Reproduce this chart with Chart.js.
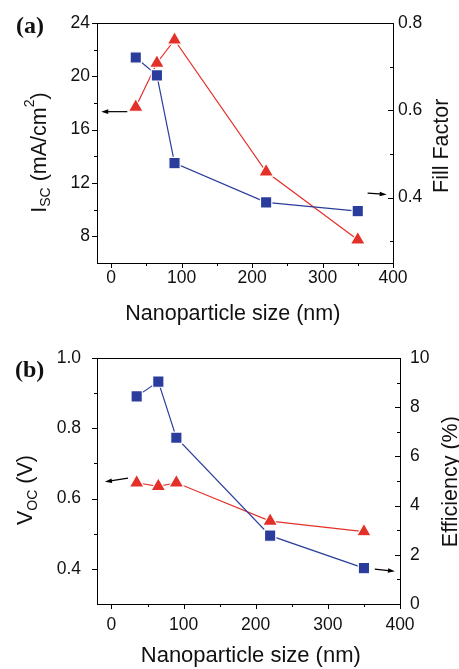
<!DOCTYPE html>
<html>
<head>
<meta charset="utf-8">
<script src="https://cdn.jsdelivr.net/npm/chart.js@4.4.1/dist/chart.umd.min.js"></script>
<style>
  html, body { margin: 0; padding: 0; background: #fff; }
  #wrap { position: relative; width: 459px; height: 669px; overflow: hidden; }
  canvas { position: absolute; left: 0; }
  #chartA { top: 0; }
  #chartB { top: 330px; }
</style>
</head>
<body>
<div id="wrap">
  <canvas id="chartA" width="459" height="330"></canvas>
  <canvas id="chartB" width="459" height="339"></canvas>
</div>
<script>
// === Data ===
const sizes = [35, 65, 90, 220, 350];

// panel (a)
const iscValues = [17.7, 21.0, 22.73, 12.84, 7.74];
const fillFactor = [0.721, 0.68, 0.479, 0.389, 0.369];

// panel (b)
const vocValues = [0.645, 0.635, 0.645, 0.536, 0.506];
const efficiency = [8.44, 9.04, 6.76, 2.78, 1.46];

// tick values
const xMajor = [0, 100, 200, 300, 400];
const xMinor = [50, 150, 250, 350];
const iscMajor = [8, 12, 16, 20, 24];
const iscMinor = [10, 14, 18, 22];
const ffMajor = [0.4, 0.6, 0.8];
const ffMinor = [0.3, 0.5, 0.7];
const vocMajor = [0.4, 0.6, 0.8, 1.0];
const vocMinor = [0.5, 0.7, 0.9];
const effMajor = [0, 2, 4, 6, 8, 10];
const effMinor = [1, 3, 5, 7, 9];

const RED = '#e3312a';
const BLUE = '#2b3d9c';
const FONT = 'Liberation Sans';

const pts = (ys) => sizes.map((x, i) => ({x, y: ys[i]}));

// === helpers ===
function drawParts(ctx, parts, x, y, rot) {
  ctx.save();
  ctx.translate(x, y);
  ctx.rotate(rot);
  ctx.fillStyle = '#111';
  ctx.textBaseline = 'alphabetic';
  ctx.textAlign = 'left';
  let total = 0;
  parts.forEach((p) => {
    ctx.font = `${p.size}px "${FONT}"`;
    p.w = ctx.measureText(p.t).width;
    total += p.w;
  });
  let cx = -total / 2;
  parts.forEach((p) => {
    ctx.font = `${p.size}px "${FONT}"`;
    ctx.fillText(p.t, cx, p.dy || 0);
    cx += p.w;
  });
  ctx.restore();
}

function drawArrow(ctx, x1, y1, x2, y2) {
  const ang = Math.atan2(y2 - y1, x2 - x1);
  ctx.save();
  ctx.strokeStyle = '#000';
  ctx.fillStyle = '#000';
  ctx.lineWidth = 1.2;
  ctx.beginPath();
  ctx.moveTo(x1, y1);
  ctx.lineTo(x2 - Math.cos(ang) * 4, y2 - Math.sin(ang) * 4);
  ctx.stroke();
  ctx.beginPath();
  ctx.moveTo(x2, y2);
  ctx.lineTo(x2 - Math.cos(ang) * 7 + Math.sin(ang) * 2.3, y2 - Math.sin(ang) * 7 - Math.cos(ang) * 2.3);
  ctx.lineTo(x2 - Math.cos(ang) * 7 - Math.sin(ang) * 2.3, y2 - Math.sin(ang) * 7 + Math.cos(ang) * 2.3);
  ctx.closePath();
  ctx.fill();
  ctx.restore();
}

// frame, tick marks, titles and arrows
function makeDecor(spec) {
  return {
    id: 'decor',
    afterDraw(chart) {
      const ctx = chart.ctx;
      const a = chart.chartArea;
      const sx = chart.scales.x, sy = chart.scales.y, sy1 = chart.scales.y1;
      ctx.save();
      ctx.strokeStyle = '#000';
      ctx.lineWidth = 1;
      ctx.strokeRect(a.left + 0.5, a.top + 0.5, a.right - a.left, a.bottom - a.top);
      ctx.beginPath();
      const tick = (vals, len, fn) => vals.forEach((v) => fn(v, len));
      const xt = (v, len) => {
        const p = Math.round(sx.getPixelForValue(v)) + 0.5;
        ctx.moveTo(p, a.bottom); ctx.lineTo(p, a.bottom + len);
      };
      const yt = (v, len) => {
        const p = Math.round(sy.getPixelForValue(v)) + 0.5;
        ctx.moveTo(a.left, p); ctx.lineTo(a.left - len, p);
      };
      const y1t = (v, len) => {
        const p = Math.round(sy1.getPixelForValue(v)) + 0.5;
        ctx.moveTo(a.right, p); ctx.lineTo(a.right - len, p);
      };
      tick(xMajor, 5, xt); tick(xMinor, 3, xt);
      tick(spec.yMajor, 5, yt); tick(spec.yMinor, 3, yt);
      tick(spec.y1Major, 5, y1t); tick(spec.y1Minor, 3, y1t);
      ctx.stroke();
      ctx.restore();

      spec.titles.forEach((t) => drawParts(ctx, t.parts, t.x, t.y, t.rot || 0));

      ctx.save();
      ctx.font = `bold 24px "Liberation Serif"`;
      ctx.fillStyle = '#111';
      ctx.fillText(spec.panel.text, spec.panel.x, spec.panel.y);
      ctx.restore();

      spec.arrows.forEach((ar) => {
        const s = chart.scales[ar.axis];
        drawArrow(ctx, sx.getPixelForValue(ar.from[0]), s.getPixelForValue(ar.from[1]),
          sx.getPixelForValue(ar.to[0]), s.getPixelForValue(ar.to[1]));
      });
    },
  };
}

function lineSet(label, data, axis, color, style, radius) {
  return {
    label, data, yAxisID: axis,
    borderColor: color, backgroundColor: color, borderWidth: 1.2,
    pointStyle: style, pointRadius: radius, pointBackgroundColor: color,
    pointBorderColor: '#fff', pointBorderWidth: 1.2, tension: 0,
  };
}

function makeChart(el, cfg) {
  const tickFont = {family: FONT, size: 17.5};
  const fixed = (vals) => (axis) => { axis.ticks = vals.map((v) => ({value: v})); };
  return new Chart(el, {
    type: 'line',
    data: {datasets: cfg.datasets},
    options: {
      responsive: false,
      animation: false,
      events: [],
      layout: {padding: {top: cfg.top, left: 0, right: 0, bottom: 0}},
      plugins: {legend: {display: false}, tooltip: {enabled: false}},
      scales: {
        x: {
          type: 'linear', min: -20, max: 400,
          grid: {display: false, drawTicks: false}, border: {display: false},
          afterBuildTicks: fixed(xMajor),
          ticks: {font: tickFont, color: '#111', padding: cfg.xPad, maxRotation: 0, autoSkip: false},
          afterFit: (s) => { s.height = cfg.xHeight; },
        },
        y: {
          type: 'linear', position: 'left', min: cfg.yRange[0], max: cfg.yRange[1],
          grid: {display: false, drawTicks: false}, border: {display: false},
          afterBuildTicks: fixed(cfg.yMajor),
          ticks: {font: tickFont, color: '#111', padding: cfg.yPad, callback: cfg.yFmt},
          afterFit: (s) => { s.width = 97; },
        },
        y1: {
          type: 'linear', position: 'right', min: cfg.y1Range[0], max: cfg.y1Range[1],
          grid: {display: false, drawTicks: false}, border: {display: false},
          afterBuildTicks: fixed(cfg.y1Major),
          ticks: {font: tickFont, color: '#111', padding: cfg.y1Pad, callback: cfg.y1Fmt},
          afterFit: (s) => { s.width = cfg.y1Width; },
        },
      },
    },
    plugins: [makeDecor(cfg)],
  });
}

// === Panel (a) ===
makeChart(document.getElementById('chartA'), {
  datasets: [
    lineSet('Fill Factor', pts(fillFactor), 'y1', BLUE, 'rect', 8),
    lineSet('Isc', pts(iscValues), 'y', RED, 'triangle', 8.5),
  ],
  top: 23, xHeight: 67, y1Width: 66,
  xPad: 5, yPad: 7, y1Pad: 5,
  yRange: [6, 24], y1Range: [0.25, 0.8],
  yMajor: iscMajor, yMinor: iscMinor, y1Major: ffMajor, y1Minor: ffMinor,
  yFmt: (v) => String(v), y1Fmt: (v) => v.toFixed(1),
  titles: [
    {parts: [{t: 'Nanoparticle size (nm)', size: 21.5}], x: 232.8, y: 319.5},
    {parts: [
      {t: 'I', size: 21.5}, {t: 'SC', size: 14, dy: 4.5}, {t: ' (mA/cm', size: 21.5},
      {t: '2', size: 14, dy: -12}, {t: ')', size: 21.5},
    ], x: 45.7, y: 152.5, rot: -Math.PI / 2},
    {parts: [{t: 'Fill Factor', size: 21.5}], x: 448.3, y: 145.8, rot: -Math.PI / 2},
  ],
  panel: {text: '(a)', x: 16, y: 32.5},
  arrows: [
    {axis: 'y', from: [23, 17.35], to: [-14, 17.35]},
    {axis: 'y1', from: [364, 0.41], to: [391, 0.407]},
  ],
});

// === Panel (b) ===
makeChart(document.getElementById('chartB'), {
  datasets: [
    lineSet('Efficiency', pts(efficiency), 'y1', BLUE, 'rect', 8),
    lineSet('Voc', pts(vocValues), 'y', RED, 'triangle', 8.5),
  ],
  top: 28, xHeight: 65, y1Width: 59,
  xPad: 11, yPad: 16, y1Pad: 10,
  yRange: [0.3, 1.0], y1Range: [0, 10],
  yMajor: vocMajor, yMinor: vocMinor, y1Major: effMajor, y1Minor: effMinor,
  yFmt: (v) => v.toFixed(1), y1Fmt: (v) => String(v),
  titles: [
    {parts: [{t: 'Nanoparticle size (nm)', size: 22}], x: 250.8, y: 331.7},
    {parts: [
      {t: 'V', size: 21.5}, {t: 'OC', size: 14, dy: 4.5}, {t: ' (V)', size: 21.5},
    ], x: 32, y: 160, rot: -Math.PI / 2},
    {parts: [{t: 'Efficiency (%)', size: 21.5}], x: 457.3, y: 151.7, rot: -Math.PI / 2},
  ],
  panel: {text: '(b)', x: 15, y: 47},
  arrows: [
    {axis: 'y', from: [23, 0.658], to: [-9, 0.648]},
    {axis: 'y1', from: [365, 1.42], to: [393, 1.33]},
  ],
});
</script>
</body>
</html>
